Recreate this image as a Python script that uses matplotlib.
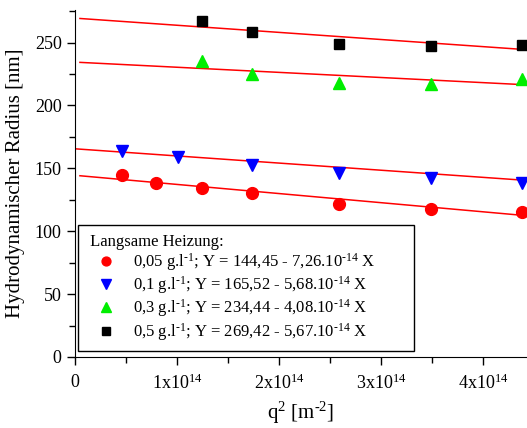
import numpy as np
import matplotlib
matplotlib.use('Agg')
import matplotlib.pyplot as plt
from matplotlib.ticker import MultipleLocator, FuncFormatter

plt.rcParams['font.family'] = ['Liberation Serif', 'DejaVu Serif']
plt.rcParams['mathtext.fontset'] = 'custom'
plt.rcParams['mathtext.rm'] = 'Liberation Serif'
plt.rcParams['mathtext.it'] = 'Liberation Serif:italic'

# q^2 in units of 1e14 m^-2
q_red = [0.46, 0.80, 1.25, 1.74, 2.59, 3.49, 4.38]
r_red = [145, 138, 134, 130, 122, 118, 115]
q_blue = [0.46, 1.01, 1.74, 2.59, 3.49, 4.38]
r_blue = [164, 159, 153, 146, 142, 138]
q_green = [1.25, 1.74, 2.59, 3.49, 4.38]
r_green = [235, 225, 218, 217, 221]
q_black = [1.25, 1.74, 2.59, 3.49, 4.38]
r_black = [267, 258, 249, 247, 248]

# fit: Y = a - b*1e-14 X
fit_a = [144.45, 165.52, 234.44, 269.42]
fit_b = [7.26, 5.68, 4.08, 5.67]
fit_start = [0.05, 0.0, 0.05, 0.05]

labels = [r'0,05 g.l$^{\text{-1}}$; Y = 144,45 - 7,26.10$^{\text{-14}}$ X',
          r'0,1 g.l$^{\text{-1}}$; Y = 165,52 - 5,68.10$^{\text{-14}}$ X',
          r'0,3 g.l$^{\text{-1}}$; Y = 234,44 - 4,08.10$^{\text{-14}}$ X',
          r'0,5 g.l$^{\text{-1}}$; Y = 269,42 - 5,67.10$^{\text{-14}}$ X']

fig = plt.figure(figsize=(5.27, 4.28), dpi=100)
ax = fig.add_axes([0.142, 0.166, 0.858, 0.811])

E = 1e14
for a, b, s in zip(fit_a, fit_b, fit_start):
    xx = np.array([s, 4.6]) * E
    ax.plot(xx, a - b * 1e-14 * xx, color='red', lw=1.1, zorder=2)

ax.plot(np.array(q_red) * E, r_red, 'o', color='red', ms=8.5, ls='none', label=labels[0], zorder=3)
ax.plot(np.array(q_blue) * E, r_blue, 'v', color='blue', ms=9, ls='none', label=labels[1], zorder=3)
ax.plot(np.array(q_green) * E, r_green, '^', color='#00ee00', ms=9, ls='none', label=labels[2], zorder=3)
ax.plot(np.array(q_black) * E, r_black, 's', color='black', ms=7.5, ls='none', label=labels[3], zorder=3)

ax.set_xlim(0, 4.43e14)
ax.set_ylim(0, 276)
ax.spines['top'].set_visible(False)
ax.spines['right'].set_visible(False)
ax.yaxis.set_major_locator(MultipleLocator(50))
ax.yaxis.set_minor_locator(MultipleLocator(25))
ax.xaxis.set_major_locator(MultipleLocator(1e14))
ax.xaxis.set_minor_locator(MultipleLocator(0.5e14))


def xfmt(v, pos):
    n = int(round(v / E))
    if n == 0:
        return '0'
    return f'{n}x10$^{{14}}$'


ax.xaxis.set_major_formatter(FuncFormatter(xfmt))
ax.tick_params(which='major', length=6, width=1, labelsize=13, direction='out')
ax.tick_params(which='minor', length=4, width=1, direction='out')
ax.tick_params(axis='x', pad=6)

ax.set_xlabel(r'q$^2$ [m$^{\text{-2}}$]', fontsize=15, labelpad=5)
ax.set_ylabel('Hydrodynamischer Radius [nm]', fontsize=15, labelpad=7)

leg = ax.legend(loc='lower left', bbox_to_anchor=(0.007, 0.017, 0.743, 0.3), mode='expand',
                borderaxespad=0, title=' Langsame Heizung:',
                fontsize=12, title_fontsize=12, frameon=True, fancybox=False,
                edgecolor='black', framealpha=1, handletextpad=0.4, markerscale=0.75,
                handlelength=2.4, borderpad=0.5, labelspacing=0.08, alignment='left')
leg.get_frame().set_linewidth(1)

fig.savefig('out.png', dpi=100)
